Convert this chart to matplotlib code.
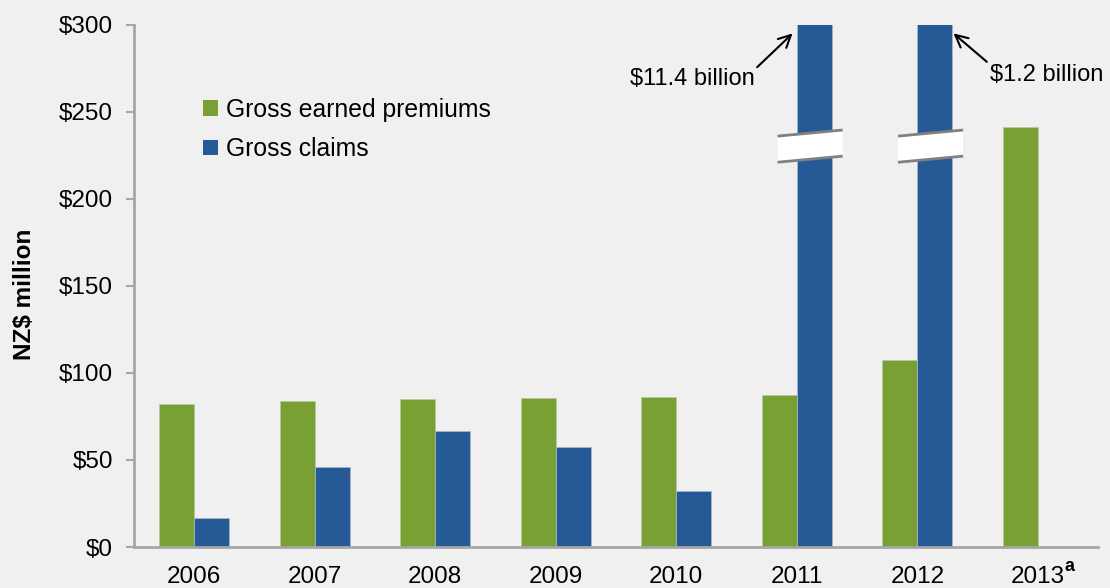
import numpy as np
import matplotlib.pyplot as plt
from matplotlib.patches import Polygon, Patch

years = ["2006", "2007", "2008", "2009", "2010", "2011", "2012", "2013"]
premiums = [82.1, 83.7, 85.0, 85.8, 86.0, 87.3, 107.5, 241.4]
claims = [16.5, 46.0, 66.6, 57.6, 32.0, 11400.0, 1200.0, -1.0]
yticks = [0, 50, 100, 150, 200, 250, 300]
ytick_labels = ["$0", "$50", "$100", "$150", "$200", "$250", "$300"]
broken_years = ["2011", "2012"]
notes = ["$11.4 billion", "$1.2 billion"]

green = "#78a032"
blue = "#265a97"
bg = "#f0f0f0"
axis_col = "#a6a6a6"

plt.rcParams['font.family'] = ['Liberation Sans', 'DejaVu Sans']

fig = plt.figure(figsize=(11.1, 5.88), dpi=100, facecolor=bg)
ax = fig.add_axes([0.1207, 0.0697, 0.8686, 0.8883])
ax.set_facecolor(bg)

x = np.arange(len(years))
w = 0.29
ax.bar(x - w / 2, premiums, w, color=green, edgecolor="#b8c8a0", linewidth=0.6, zorder=2)
ax.bar(x + w / 2, claims, w, color=blue, edgecolor="#a8b4c8", linewidth=0.6, zorder=2)

ax.set_xlim(-0.5, len(years) - 0.5)
ax.set_ylim(0, 300)
ax.set_yticks(yticks)
ax.set_yticklabels(ytick_labels)
ax.set_xticks(x)
ax.set_xticklabels(years)

for s in ["top", "right"]:
    ax.spines[s].set_visible(False)
for s in ["left", "bottom"]:
    ax.spines[s].set_color(axis_col)
    ax.spines[s].set_linewidth(2)
ax.tick_params(axis="y", length=6, width=1.5, color=axis_col, pad=9, labelsize=17.5)
ax.tick_params(axis="x", length=0, pad=14, labelsize=17.5)

ax.set_ylabel("NZ$ million", fontsize=17.5, fontweight="bold")
ax.yaxis.set_label_coords(-0.102, 0.484)

# superscript on 2013
ax.text(7.26, -0.038, "a", transform=ax.get_xaxis_transform(), fontsize=13,
        fontweight="bold", ha="center", va="center")

# axis break bands
for yr in broken_years:
    c = years.index(yr)
    x0, x1 = c - 0.16, c + 0.38
    lo0, hi0, lo1, hi1 = 221.0, 236.0, 224.5, 239.5
    band = Polygon([[x0, lo0], [x1, lo1], [x1, hi1], [x0, hi0]], closed=True,
                   facecolor="white", edgecolor="none", zorder=4)
    ax.add_patch(band)
    ax.plot([x0, x1], [lo0, lo1], color="#808080", lw=2, zorder=5, solid_capstyle="butt")
    ax.plot([x0, x1], [hi0, hi1], color="#808080", lw=2, zorder=5, solid_capstyle="butt")

# annotations
ax.annotate(notes[0], xy=(4.965, 295), xytext=(4.13, 269), ha="center", va="center",
            fontsize=17, arrowprops=dict(arrowstyle="->", color="black", lw=1.5,
                                         mutation_scale=22, shrinkA=0, shrinkB=0,
                                         relpos=(1.0, 0.9)),
            annotation_clip=False)
ax.annotate(notes[1], xy=(6.30, 295), xytext=(7.07, 271), ha="center", va="center",
            fontsize=17, arrowprops=dict(arrowstyle="->", color="black", lw=1.5,
                                         mutation_scale=22, shrinkA=0, shrinkB=0,
                                         relpos=(0.0, 1.0)),
            annotation_clip=False)

handles = [Patch(facecolor=green, edgecolor="none"), Patch(facecolor=blue, edgecolor="none")]
ax.legend(handles, ["Gross earned premiums", "Gross claims"], loc="upper left",
          bbox_to_anchor=(0.072, 0.86), frameon=False, fontsize=17.8,
          handlelength=0.6, handleheight=0.6, handletextpad=0.3,
          labelspacing=0.62, borderpad=0, borderaxespad=0)

fig.savefig("out.png", dpi=100, facecolor=bg)
